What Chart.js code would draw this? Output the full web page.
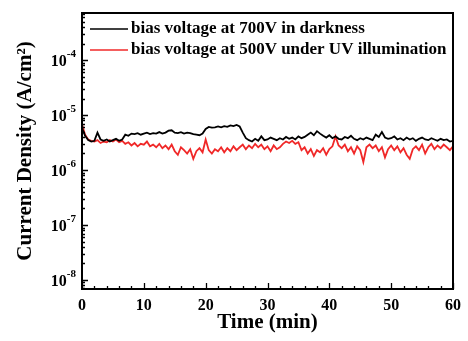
<!DOCTYPE html>
<html>
<head>
<meta charset="utf-8">
<script src="https://cdn.jsdelivr.net/npm/chart.js@4.4.1/dist/chart.umd.min.js"></script>
<style>
  html, body { margin: 0; padding: 0; background: #fff; }
  canvas { display: block; }
</style>
</head>
<body>
<canvas id="densityChart" width="468" height="341"></canvas>
<script>
// time axis (min)
const timeMin = [
  0, 0.5, 1, 1.5, 2, 2.5, 3, 3.5, 4, 4.5,
  5, 5.5, 6, 6.5, 7, 7.5, 8, 8.5, 9, 9.5,
  10, 10.5, 11, 11.5, 12, 12.5, 13, 13.5, 14, 14.5,
  15, 15.5, 16, 16.5, 17, 17.5, 18, 18.5, 19, 19.5,
  20, 20.5, 21, 21.5, 22, 22.5, 23, 23.5, 24, 24.5,
  25, 25.5, 26, 26.5, 27, 27.5, 28, 28.5, 29, 29.5,
  30, 30.5, 31, 31.5, 32, 32.5, 33, 33.5, 34, 34.5,
  35, 35.5, 36, 36.5, 37, 37.5, 38, 38.5, 39, 39.5,
  40, 40.5, 41, 41.5, 42, 42.5, 43, 43.5, 44, 44.5,
  45, 45.5, 46, 46.5, 47, 47.5, 48, 48.5, 49, 49.5,
  50, 50.5, 51, 51.5, 52, 52.5, 53, 53.5, 54, 54.5,
  55, 55.5, 56, 56.5, 57, 57.5, 58, 58.5, 59, 59.5,
  60
];

// current density in units of 1e-6 A/cm^2
const dark700V = [
  5.8, 4.2, 3.5, 3.3, 3.4, 4.8, 3.6, 3.4, 3.6, 3.3,
  3.5, 3.7, 3.4, 3.6, 4.4, 4.2, 4.6, 4.5, 4.7, 4.4,
  4.6, 4.8, 4.5, 4.7, 4.6, 4.9, 4.6, 4.8, 5.2, 5.3,
  4.8, 4.7, 4.9, 4.6, 4.8, 4.7, 4.5, 4.4, 4.3, 4.6,
  5.6, 6.1, 5.9, 6.0, 6.2, 6.0, 6.3, 6.1, 6.5, 6.3,
  6.6, 6.2, 4.8, 3.8, 3.5, 3.3, 3.7, 3.4, 4.1, 3.5,
  3.6, 3.9, 3.7, 3.5, 3.8, 3.6, 4.0, 3.7, 3.9, 3.6,
  4.1, 3.8, 4.0, 4.4, 4.8, 4.3, 5.1, 4.6, 4.2, 3.9,
  4.3, 3.8, 4.1, 3.7, 3.6, 4.0, 3.8, 4.2, 3.7, 3.5,
  3.8, 3.6, 3.9, 3.7, 3.5, 4.4, 4.0, 4.9, 3.9, 3.7,
  3.8, 4.1, 3.6, 3.8, 3.5, 3.9, 3.6, 3.8, 3.4, 3.7,
  3.9, 3.6, 3.5, 3.8, 3.6, 3.4, 3.7, 3.5, 3.6, 3.3,
  3.4
];
const uv500V = [
  6.8, 4.4, 3.6, 3.4, 3.3, 3.5, 3.1, 3.3, 3.2, 3.5,
  3.3, 3.6, 3.2, 3.4, 3.0, 3.2, 2.8, 3.1, 2.7, 3.0,
  2.9, 3.3, 2.7, 2.9, 2.6, 3.0, 2.5, 2.8, 2.4, 2.9,
  2.2, 1.9, 2.6, 2.3, 2.0, 2.4, 1.6, 2.2, 2.5, 2.1,
  3.6, 2.3, 2.0, 2.4, 2.2, 2.6, 2.1, 2.5, 2.2, 2.7,
  2.3, 2.6, 2.9, 2.4, 2.8, 2.5, 3.0, 2.6, 2.9, 2.4,
  2.7, 2.2, 2.8, 2.4, 2.6, 3.0, 3.3, 3.1, 3.4, 3.0,
  3.2, 2.3, 2.6, 2.0, 2.4, 1.8, 2.3, 2.1, 2.5, 1.9,
  2.4, 2.7, 4.1, 2.8, 2.5, 2.9, 2.2, 2.6, 2.0, 2.7,
  2.3, 1.4, 2.6, 2.9, 2.5, 2.8, 2.2, 2.6, 1.7, 2.4,
  2.8, 2.3, 2.7, 2.1, 2.5, 1.9, 1.6, 2.4, 2.7, 2.3,
  2.9, 2.0, 2.6, 3.0, 2.4, 2.8, 2.5, 2.9, 2.6, 2.3,
  2.7
];

const yTickValues = [1e-8, 1e-7, 1e-6, 1e-5, 1e-4];
const yTickExponents = ['-8', '-7', '-6', '-5', '-4'];
const seriesLabels = ['bias voltage at 700V in darkness', 'bias voltage at 500V under UV illumination'];

const serif = '"Liberation Serif", "Times New Roman", serif';

const toPoints = (vals) => vals.map((v, i) => ({ x: timeMin[i], y: v * 1e-6 }));

// inward ticks, power-of-ten labels, box frame and in-plot legend
const framePlugin = {
  id: 'framePlugin',
  afterDraw(chart) {
    const { ctx, chartArea: a, scales: { x, y } } = chart;
    ctx.save();
    ctx.strokeStyle = '#000';
    ctx.lineWidth = 1.3;
    ctx.beginPath();
    for (let t = 0; t <= 60; t += 2) {
      const px = Math.round(x.getPixelForValue(t)) + 0.5;
      const len = t % 10 === 0 ? 6 : 3;
      ctx.moveTo(px, a.bottom);
      ctx.lineTo(px, a.bottom - len);
    }
    for (let d = -9; d <= -4; d++) {
      for (let m = 1; m <= 9; m++) {
        const v = m * Math.pow(10, d);
        if (v < y.min || v > y.max) continue;
        const py = Math.round(y.getPixelForValue(v)) + 0.5;
        const len = m === 1 ? 6 : 3;
        ctx.moveTo(a.left, py);
        ctx.lineTo(a.left + len, py);
      }
    }
    ctx.stroke();

    ctx.lineWidth = 2;
    ctx.strokeRect(a.left, a.top, a.right - a.left, a.bottom - a.top);

    ctx.fillStyle = '#000';
    ctx.textAlign = 'left';
    ctx.textBaseline = 'alphabetic';
    yTickValues.forEach((v, i) => {
      const py = y.getPixelForValue(v);
      ctx.font = 'bold 11px ' + serif;
      const ew = ctx.measureText(yTickExponents[i]).width;
      ctx.font = 'bold 16px ' + serif;
      const bw = ctx.measureText('10').width;
      const right = a.left - 6;
      ctx.fillText('10', right - ew - bw, py + 6);
      ctx.font = 'bold 11px ' + serif;
      ctx.fillText(yTickExponents[i], right - ew, py - 3);
    });

    chart.data.datasets.forEach((ds, i) => {
      const ly = a.top + 16 + i * 21;
      ctx.strokeStyle = ds.borderColor;
      ctx.lineWidth = 1.5;
      ctx.beginPath();
      ctx.moveTo(a.left + 8, ly);
      ctx.lineTo(a.left + 46, ly);
      ctx.stroke();
      ctx.fillStyle = '#000';
      ctx.font = 'bold 17px ' + serif;
      ctx.textBaseline = 'middle';
      ctx.fillText(ds.label, a.left + 49, ly);
    });
    ctx.restore();
  }
};

const ctx = document.getElementById('densityChart').getContext('2d');

const densityChart = new Chart(ctx, {
  type: 'line',
  data: {
    datasets: [{
      label: seriesLabels[0],
      data: toPoints(dark700V),
      borderColor: '#000000',
      borderWidth: 1.8,
      pointRadius: 0,
      tension: 0
    }, {
      label: seriesLabels[1],
      data: toPoints(uv500V),
      borderColor: '#f02828',
      borderWidth: 1.8,
      pointRadius: 0,
      tension: 0
    }]
  },
  options: {
    responsive: false,
    animation: false,
    layout: {
      padding: { top: 13, right: 9, left: 0, bottom: 0 }
    },
    scales: {
      x: {
        type: 'linear',
        min: 0,
        max: 60,
        afterFit: (scale) => { scale.height = 52; },
        ticks: {
          stepSize: 10,
          padding: 7,
          color: '#000',
          font: { family: serif, size: 16, weight: 'bold' }
        },
        grid: { display: false, drawTicks: false },
        border: { display: false },
        title: {
          display: true,
          text: 'Time (min)',
          color: '#000',
          padding: { top: 0, bottom: 6 },
          font: { family: serif, size: 21, weight: 'bold' }
        }
      },
      y: {
        type: 'logarithmic',
        min: 6.85e-9,
        max: 7.2e-4,
        afterFit: (scale) => { scale.width = 82; },
        afterBuildTicks: (scale) => {
          scale.ticks = yTickValues.map(v => ({ value: v }));
        },
        ticks: { display: false },
        grid: { display: false, drawTicks: false },
        border: { display: false },
        title: {
          display: true,
          text: 'Current Density (A/cm²)',
          color: '#000',
          padding: { top: 13, bottom: 0 },
          font: { family: serif, size: 21, weight: 'bold' }
        }
      }
    },
    plugins: {
      legend: { display: false },
      tooltip: { enabled: false }
    }
  },
  plugins: [framePlugin]
});
</script>
</body>
</html>
